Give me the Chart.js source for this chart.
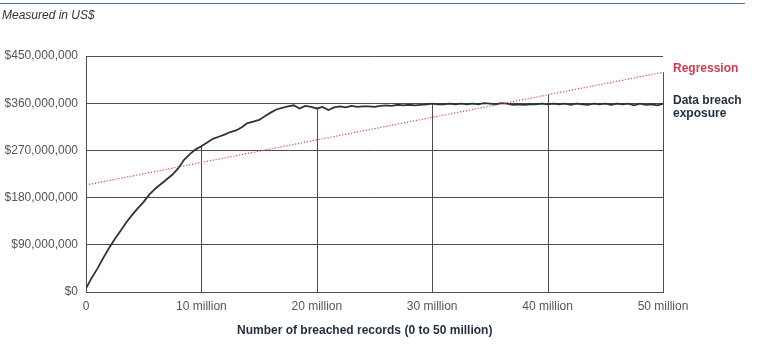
<!DOCTYPE html>
<html>
<head>
<meta charset="utf-8">
<script src="https://cdn.jsdelivr.net/npm/chart.js@4/dist/chart.umd.min.js"></script>
<style>
  body { margin:0; background:#fff; font-family:"Liberation Sans", Arial, sans-serif; }
  #wrap { position:relative; width:776px; height:346px; overflow:hidden; }
  #rule { position:absolute; left:0; top:3px; width:745px; height:1px; background:#4f73a0; }
  .lbl { position:absolute; font-size:12px; line-height:13px; white-space:nowrap; }
</style>
</head>
<body>
<div id="wrap">
  <canvas id="c" width="776" height="346"></canvas>
  <div id="rule"></div>
  <div class="lbl" style="left:2px; top:9px; font-style:italic; color:#333;">Measured in US$</div>
  <div class="lbl" style="left:673px; top:62px; font-weight:bold; color:#d03a4c;">Regression</div>
  <div class="lbl" style="left:673px; top:94px; font-weight:bold; color:#1f2e3f;">Data breach<br>exposure</div>
  <div class="lbl" style="left:237px; top:324px; font-weight:bold; color:#1f2e3f;">Number of breached records (0 to 50 million)</div>
</div>
<script>
// breached records, in millions
const records = [
  0, 0.5, 1, 1.5, 2, 2.5, 3, 3.5, 4, 4.5, 5, 5.5, 6, 6.5, 7, 7.5, 8, 8.5, 9, 9.5,
  10, 10.5, 11, 11.5, 12, 12.5, 13, 13.5, 14, 14.5, 15, 15.5, 16, 16.5, 17, 17.5, 18, 18.5, 19, 19.5,
  20, 20.5, 21, 21.5, 22, 22.5, 23, 23.5, 24, 24.5, 25, 25.5, 26, 26.5, 27, 27.5, 28, 28.5, 29, 29.5,
  30, 30.5, 31, 31.5, 32, 32.5, 33, 33.5, 34, 34.5, 35, 35.5, 36, 36.5, 37, 37.5, 38, 38.5, 39, 39.5,
  40, 40.5, 41, 41.5, 42, 42.5, 43, 43.5, 44, 44.5, 45, 45.5, 46, 46.5, 47, 47.5, 48, 48.5, 49, 49.5, 50
];
// data breach exposure, US$ millions
const exposure = [
  7, 27, 45, 65, 84, 101, 117, 133, 147, 160, 172, 186, 197, 206, 215, 224, 236, 252, 263, 272,
  278, 285, 292, 296, 300, 305, 308, 314, 322, 325, 328, 335, 342, 348, 351, 354, 356, 350, 355, 353,
  350, 353, 347, 352, 354, 352, 355, 353, 354, 354, 353, 355, 356, 355, 357, 356, 357, 356, 357, 358,
  359, 358, 358, 359, 358, 359, 358, 359, 358, 360, 359, 358, 360, 359, 357, 358, 357, 358, 358, 359,
  358, 359, 358, 359, 357, 359, 358, 357, 359, 358, 359, 357, 359, 358, 359, 356, 359, 357, 358, 356, 359
];
// regression line end points
const regressionX = [0, 50];
const regressionY = [204, 419];
const xTicks = [0, 10, 20, 30, 40, 50];
const yTicks = [0, 90, 180, 270, 360, 450];

const GRID = "#4d4d4d";

// vertical lines: from the higher of the two lines down to the x axis
const dropLines = {
  id: "dropLines",
  beforeDatasetsDraw(chart) {
    const { ctx, scales: { x, y }, chartArea } = chart;
    ctx.save();
    ctx.strokeStyle = GRID;
    ctx.lineWidth = 1;
    // left frame
    ctx.beginPath();
    ctx.moveTo(Math.round(x.getPixelForValue(0)) + 0.5, chartArea.top);
    ctx.lineTo(Math.round(x.getPixelForValue(0)) + 0.5, chartArea.bottom);
    ctx.stroke();
    xTicks.slice(1).forEach(t => {
      const i = records.indexOf(t);
      const reg = regressionY[0] + (regressionY[1] - regressionY[0]) * t / regressionX[1];
      const top = Math.max(exposure[i], reg);
      const px = Math.round(x.getPixelForValue(t)) + 0.5;
      ctx.beginPath();
      ctx.moveTo(px, y.getPixelForValue(top));
      ctx.lineTo(px, chartArea.bottom);
      ctx.stroke();
    });
    ctx.restore();
  }
};

new Chart(document.getElementById("c"), {
  type: "line",
  data: {
    datasets: [
      {
        label: "Regression",
        data: regressionX.map((v, i) => ({ x: v, y: regressionY[i] })),
        borderColor: "#d0465a",
        borderWidth: 1.2,
        borderDash: [1.2, 1.8],
        pointRadius: 0
      },
      {
        label: "Data breach exposure",
        data: records.map((v, i) => ({ x: v, y: exposure[i] })),
        borderColor: "#2a3440",
        borderWidth: 1.8,
        pointRadius: 0,
        tension: 0
      }
    ]
  },
  options: {
    responsive: false,
    animation: false,
    events: [],
    layout: { padding: { left: 0, right: 113, top: 56, bottom: 0 } },
    plugins: { legend: { display: false }, tooltip: { enabled: false } },
    scales: {
      x: {
        type: "linear",
        min: 0, max: 50,
        afterBuildTicks: s => { s.ticks = xTicks.map(v => ({ value: v })); },
        afterFit: s => { s.height = 54; },
        grid: { display: false, drawTicks: false },
        border: { display: true, color: GRID, width: 1 },
        ticks: {
          padding: 7,
          color: "#555",
          font: { family: "Liberation Sans", size: 12 },
          maxRotation: 0,
          callback: v => v === 0 ? "0" : v + " million"
        }
      },
      y: {
        min: 0, max: 450,
        afterBuildTicks: s => { s.ticks = yTicks.map(v => ({ value: v })); },
        afterFit: s => { s.width = 86; },
        grid: { color: GRID, lineWidth: 1, drawTicks: false },
        border: { display: false },
        ticks: {
          padding: 8,
          color: "#555",
          font: { family: "Liberation Sans", size: 12 },
          callback: v => "$" + (v * 1e6).toLocaleString("en-US")
        }
      }
    }
  },
  plugins: [dropLines]
});
</script>
</body>
</html>
